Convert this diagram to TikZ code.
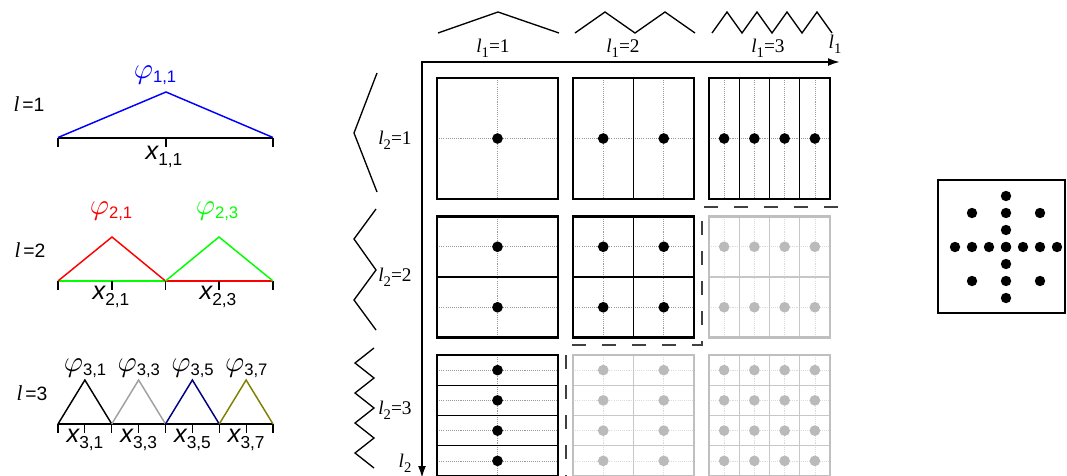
\documentclass[tikz,border=0pt]{standalone}
\usepackage{fontspec}
\setmainfont{Liberation Sans}
\newfontfamily\tms{Liberation Serif}
\usepackage{graphicx}
\usepackage{tikz}
\usetikzlibrary{arrows.meta}

\definecolor{hatgray}{RGB}{160,160,160}
\definecolor{hatnavy}{RGB}{0,0,128}
\definecolor{hatolive}{RGB}{128,128,0}

\newcommand{\phisub}[1]{\scalebox{2.2}{$\varphi$}\raisebox{-3pt}{\fontsize{12.5}{13}\selectfont #1}}
\newcommand{\xsub}[1]{{\fontsize{19}{19}\selectfont\itshape x}\raisebox{-4pt}{\fontsize{13}{13}\selectfont #1}}
\newcommand{\lvl}[1]{{\tms\fontsize{16}{16}\selectfont\itshape l}\kern2pt=#1}
\newcommand{\gl}[1]{{\itshape l}\raisebox{-3.5pt}{\fontsize{11}{11}\selectfont #1}}

\begin{document}
\begin{tikzpicture}[
        x=0.75pt, y=-0.75pt,
        lev/.style={inner sep=0pt, font=\fontsize{14.5}{16}\selectfont},
        lab/.style={inner sep=0pt},
        glab/.style={inner sep=0pt, font=\tms\fontsize{14.5}{15}\selectfont},
        base/.style={line width=1.5pt},
        tick/.style={line width=0.8pt},
        hat/.style={line width=1.1pt},
        zig/.style={line width=1pt},
        axis/.style={{Latex[length=9pt,width=6pt]}-{Latex[length=9pt,width=6pt]}, line width=1.5pt},
        guide/.style={line width=0.4pt, dash pattern=on 0.8pt off 0.8pt},
        cell/.style={line width=0.8pt},
        frame/.style={line width=1.8pt},
        stair/.style={line width=1.3pt, draw=black!75, dash pattern=on 10.5pt off 12pt}
    ]
    \useasboundingbox (0,0) rectangle (1067,475);
    \clip (0,0) rectangle (1067,475);

    % level 1
    \node[lev] (lev1) at (29,104) {\lvl{1}};
    \draw[base] (58,137.5) -- (273,137.5);
    \foreach \t in {58,166,273} \draw[tick] (\t,137.5) -- ++(0,9);
    \draw[hat, blue] (58,137.5) -- (166,92) -- (273,137.5);
    \node[lab, text=blue] (phi11) at (155,75) {\phisub{1,1}};
    \node[lab] (x11) at (164,157) {\xsub{1,1}};

    % level 2
    \node[lev] (lev2) at (30,250) {\lvl{2}};
    \draw[base, green] (58,281) -- (165.5,281);
    \draw[base, red] (165.5,281) -- (273,281);
    \foreach \t in {58,112,165.5,219,273} \draw[tick] (\t,281) -- ++(0,9);
    \draw[hat, red] (58,281) -- (112,237) -- (165.5,281);
    \draw[hat, green] (165.5,281) -- (219,237) -- (273,281);
    \node[lab, text=red] (phi21) at (111,211) {\phisub{2,1}};
    \node[lab, text=green] (phi23) at (217,211) {\phisub{2,3}};
    \node[lab] (x21) at (111,297) {\xsub{2,1}};
    \node[lab] (x23) at (218,297) {\xsub{2,3}};

    % level 3
    \node[lev] (lev3) at (32,393) {\lvl{3}};
    \draw[base] (58,424) -- (273,424);
    \foreach \k in {0,...,8} \draw[tick] ({58+26.875*\k},424) -- ++(0,9);
    \foreach \k/\c in {0/black, 1/hatgray, 2/hatnavy, 3/hatolive}{
        \draw[hat, draw=\c] ({58+53.75*\k},424) -- ++(26.875,-44) -- ++(26.875,44);
    }
    \foreach \k/\i in {0/1, 1/3, 2/5, 3/7}{
        \node[lab] (phi3\i) at ({85+53.75*\k},368) {\phisub{3,\i}};
        \node[lab] (x3\i) at ({85+53.75*\k},440) {\xsub{3,\i}};
    }

    % axes
    \coordinate (corner) at (422,62);
    \coordinate (l1end) at (840,62);
    \coordinate (l2end) at (422,478);
    \draw[axis] (l1end) -| (l2end);
    \node[glab] (l1ax) at (835,44) {\gl{1}};
    \node[glab] (l2ax) at (405,463) {\gl{2}};

    % hierarchical hat shapes along l1
    \draw[zig] (438,33) -- (498,12) -- (559,33);
    \draw[zig] (575,33) -- (605,12) -- (635,33) -- (665,12) -- (695,33);
    \draw[zig] (712,33) -- (727,12) -- (742,33) -- (757,12) -- (772,33) -- (787,12) -- (802,33) -- (817,12) -- (832,33);
    \node[glab] (l1a) at (493,48) {\gl{1}=1};
    \node[glab] (l1b) at (623,48) {\gl{1}=2};
    \node[glab] (l1c) at (768,48) {\gl{1}=3};

    % hierarchical hat shapes along l2
    \draw[zig] (377,73) -- (354,133) -- (377,192);
    \draw[zig] (376,209) -- (354,239) -- (376,270) -- (354,300) -- (376,330);
    \draw[zig] (374,348) -- (355,363) -- (374,378) -- (355,393) -- (374,408) -- (355,423) -- (374,438) -- (355,453) -- (374,468);
    \node[glab] (l2a) at (395,140) {\gl{2}=1};
    \node[glab] (l2b) at (395,277) {\gl{2}=2};
    \node[glab] (l2c) at (395,410) {\gl{2}=3};

    % subspace grids
    \foreach \i/\j/\bc/\lc/\dc/\pc in {1/1/black/black/black!40/black, 2/1/black/black/black!40/black,
            3/1/black/black/black!40/black, 1/2/black/black/black!40/black, 2/2/black/black/black!40/black,
            1/3/black/black/black!40/black, 3/2/black!25/black!22/black!14/black!27,
            2/3/black!25/black!22/black!14/black!27, 3/3/black!25/black!22/black!14/black!27}{
        \pgfmathsetmacro\xa{437+136*(\i-1)}
        \pgfmathsetmacro\ya{78+138.5*(\j-1)}
        \pgfmathtruncatemacro\nx{2^(\i-1)}
        \pgfmathtruncatemacro\ny{2^(\j-1)}
        \pgfmathsetmacro\dx{121/\nx}
        \pgfmathsetmacro\dy{121/\ny}
        \foreach \k in {1,...,\nx} \draw[guide, draw=\dc] ({\xa+(\k-0.5)*\dx},\ya) -- ++(0,121);
        \foreach \m in {1,...,\ny} \draw[guide, draw=\dc] (\xa,{\ya+(\m-0.5)*\dy}) -- ++(121,0);
        \ifnum\nx>1
            \foreach \k in {2,...,\nx} \draw[cell, draw=\lc] ({\xa+(\k-1)*\dx},\ya) -- ++(0,121);
        \fi
        \ifnum\ny>1
            \foreach \m in {2,...,\ny} \draw[cell, draw=\lc] (\xa,{\ya+(\m-1)*\dy}) -- ++(121,0);
        \fi
        \foreach \k in {1,...,\nx}
            \foreach \m in {1,...,\ny}
                \fill[fill=\pc] ({\xa+(\k-0.5)*\dx},{\ya+(\m-0.5)*\dy}) circle (4pt);
        \draw[frame, draw=\bc] (\xa,\ya) rectangle ++(121,121);
    }

    % cut between used and unused subspaces
    \coordinate (s1) at (838,207);
    \coordinate (s2) at (566,478);
    \draw[stair] (s1) -- (702,207) -- (702,345) -- (566,345) -- (s2);

    % combined sparse grid
    \node[draw, line width=2pt, minimum width=95.25pt, minimum height=99.75pt, inner sep=0pt] (sparse) at (1001.5,246.5) {};
    \foreach \k in {-3,...,3}{
        \fill ({1006+17*\k},247) circle (3.9pt);
        \fill (1006,{247+17*\k}) circle (3.9pt);
    }
    \foreach \a/\b in {-34/-34, 34/-34, -34/34, 34/34} \fill ({1006+\a},{247+\b}) circle (3.9pt);
\end{tikzpicture}
\end{document}
